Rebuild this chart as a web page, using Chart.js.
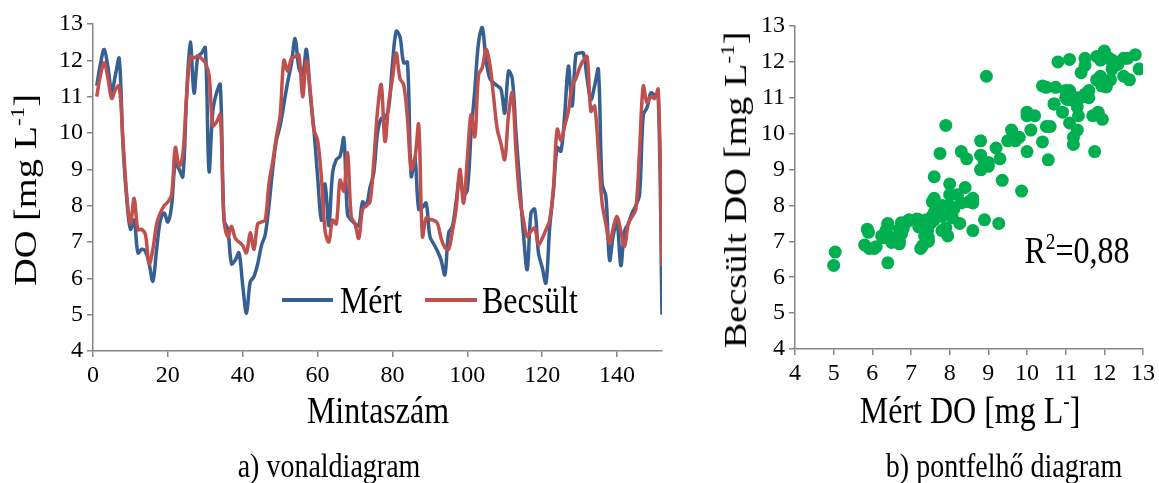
<!DOCTYPE html>
<html>
<head>
<meta charset="utf-8">
<script src="https://cdn.jsdelivr.net/npm/chart.js@4"></script>
<style>
  html, body { margin: 0; padding: 0; background: #fff; }
  body { width: 1159px; height: 483px; position: relative; overflow: hidden; font-family: "Liberation Serif", "Times New Roman", serif; color: #000; }
  .box { position: absolute; }
  .txt { position: absolute; white-space: nowrap; line-height: 1; transform: translate(-50%, -50%) scaleY(1.2); }
  .rot { transform: translate(-50%, -50%) rotate(-90deg) scaleX(1.2); }
  sup { font-size: 0.6em; vertical-align: 0.6em; line-height: 0; }
  .key { position: absolute; height: 3.5px; }
</style>
</head>
<body>
<div class="box" style="left:0;top:0;width:680px;height:400px"><canvas id="lineChart"></canvas></div>
<div class="box" style="left:700px;top:0;width:459px;height:400px"><canvas id="scatterChart"></canvas></div>

<div class="txt rot" style="left:25px;top:190px;font-size:32px">DO [mg L<sup>-1</sup>]</div>
<div class="txt" style="left:378px;top:410px;font-size:32px">Mintaszám</div>
<div class="txt" style="left:329px;top:466px;font-size:28px">a) vonaldiagram</div>

<div class="key" style="left:282px;top:298px;width:51px;background:#376092"></div>
<div class="txt" style="left:371px;top:300px;font-size:32px">Mért</div>
<div class="key" style="left:425px;top:298px;width:52px;background:#c0504d"></div>
<div class="txt" style="left:530px;top:300px;font-size:32px">Becsült</div>

<div class="txt rot" style="left:735px;top:190px;font-size:32px">Becsült DO [mg L<sup>-1</sup>]</div>
<div class="txt" style="left:970px;top:410px;font-size:32px">Mért DO [mg L<sup>-</sup>]</div>
<div class="txt" style="left:1004px;top:466px;font-size:28px">b) pontfelhő diagram</div>
<div class="txt" style="left:1077px;top:250px;font-size:32px">R<sup>2</sup>=0,88</div>

<script>
// measured (Mért) and estimated (Becsült) dissolved oxygen, samples 1..152
const measured = [
  11.3, 11.9, 12.3, 11.8, 11.15, 11.6, 12.05, 9.7, 8.2, 7.35,
  7.6, 6.7, 6.8, 6.75, 6.4, 5.92, 6.8, 7.6, 7.8, 7.55,
  8.0, 9.2, 9.0, 8.8, 11.0, 12.5, 11.1, 12.1, 12.2, 12.35,
  8.95, 10.6, 11.1, 11.33, 7.6, 7.35, 6.4, 6.5, 6.7, 5.8,
  5.04, 5.9, 6.05, 6.4, 6.9, 7.2, 8.0, 9.0, 9.8, 10.2,
  10.8, 11.4, 11.9, 12.6, 11.8, 11.6, 12.3, 11.1, 10.1, 8.8,
  7.6, 8.6, 7.45, 8.9, 9.27, 9.36, 9.86, 7.75, 7.6, 7.5,
  7.45, 8.1, 8.0, 8.5, 8.9, 10.0, 10.4, 10.4, 10.7, 11.9,
  12.8, 12.65, 11.93, 11.95, 8.81, 9.3, 7.9, 7.95, 8.07, 7.15,
  6.95, 6.75, 6.5, 6.1, 7.25, 7.43, 8.1, 8.8, 8.3, 8.44,
  10.0, 11.2, 12.5, 12.9, 12.0, 11.5, 11.38, 11.3, 11.2, 10.55,
  11.7, 11.5, 10.0, 8.6, 7.2, 6.24, 7.8, 7.9, 6.7, 6.3,
  5.87, 7.4, 8.4, 9.6, 9.5, 10.5, 11.84, 10.74, 12.16, 12.2,
  12.2, 11.5, 10.92, 11.3, 11.75, 8.6, 8.26, 6.5, 7.2, 7.55,
  6.35, 7.3, 7.5, 7.8, 8.0, 8.3, 10.5, 10.7, 11.1, 11.05,
  11.0, 5.0
]
const estimated = [
  11.0, 11.6, 11.93, 11.5, 10.95, 11.2, 11.3, 9.8, 8.3, 7.5,
  8.2, 7.34, 7.35, 7.2, 6.4, 6.8, 7.5, 7.8, 8.0, 8.1,
  8.3, 9.6, 9.09, 9.4, 11.0, 12.1, 12.07, 12.12, 12.05, 11.93,
  11.6, 10.2, 10.3, 10.5, 7.6, 7.15, 7.43, 7.1, 7.0, 6.9,
  6.7, 7.25, 6.8, 7.5, 7.55, 7.6, 8.6, 9.2, 9.9, 10.5,
  12.0, 11.7, 12.05, 12.1, 12.15, 11.0, 11.98, 11.2, 10.1, 9.8,
  8.8, 7.3, 7.0, 7.6, 7.5, 8.7, 8.4, 9.45, 7.7, 7.5,
  7.1, 7.89, 8.0, 8.1, 9.2, 10.6, 11.33, 9.77, 10.83, 11.5,
  12.2, 11.5, 11.33, 10.4, 9.0, 9.3, 10.23, 7.15, 7.66, 7.62,
  7.6, 7.52, 7.1, 6.85, 6.8, 7.3, 7.9, 9.0, 8.07, 9.3,
  10.5, 9.9, 11.6, 11.8, 12.3, 11.9, 11.0, 10.1, 9.7, 9.27,
  10.5, 11.1, 9.5, 8.2, 7.6, 7.15, 7.3, 7.38, 6.93, 7.1,
  7.34, 7.6, 8.5, 10.1, 9.8, 10.2, 10.6, 11.29, 11.5, 11.8,
  12.0, 12.1, 10.6, 10.74, 9.5, 8.07, 7.5, 6.97, 7.4, 7.7,
  7.3, 6.88, 7.5, 7.7, 7.89, 9.5, 11.29, 10.83, 11.0, 10.95,
  11.2, 6.33
]
const sampleTicks = [0, 20, 40, 60, 80, 100, 120, 140]
const doTicks = [4, 5, 6, 7, 8, 9, 10, 11, 12, 13]
const scatterTicks = [4, 5, 6, 7, 8, 9, 10, 11, 12, 13]

const BLUE = "#376092"
const RED = "#c0504d"
const GREEN = "#00b050"
const AXIS = "#868686"
const TICK_FONT = { family: "'Liberation Serif', serif", size: 24 }

function axis(min, max, ticks, size, vertical) {
  return {
    type: "linear",
    min: min,
    max: max,
    afterBuildTicks: s => { s.ticks = ticks.map(v => ({ value: v })) },
    afterFit: s => { if (vertical) s.width = size; else s.height = size },
    border: { color: AXIS, width: 1.5 },
    grid: { drawOnChartArea: false, color: AXIS, lineWidth: 1.5, tickLength: 6 },
    ticks: { color: "#000", font: TICK_FONT, padding: 4, maxRotation: 0, autoSkip: false },
  }
}

Chart.defaults.animation = false
Chart.defaults.responsive = true
Chart.defaults.maintainAspectRatio = false

new Chart(document.getElementById("lineChart"), {
  type: "line",
  data: {
    datasets: [
      {
        label: "Mért",
        data: measured.map((v, i) => ({ x: i + 1, y: v })),
        borderColor: BLUE,
        borderWidth: 3.5,
        pointRadius: 0,
        tension: 0.35,
        order: 1,
      },
      {
        label: "Becsült",
        data: estimated.map((v, i) => ({ x: i + 1, y: v })),
        borderColor: RED,
        borderWidth: 3.5,
        pointRadius: 0,
        tension: 0.35,
        order: 0,
      },
    ],
  },
  options: {
    layout: { padding: { left: 0, top: 24, right: 18, bottom: 0 } },
    plugins: { legend: { display: false }, tooltip: { enabled: false } },
    scales: {
      x: axis(0, 152, sampleTicks, 49, false),
      y: axis(4, 13, doTicks, 93, true),
    },
  },
})

new Chart(document.getElementById("scatterChart"), {
  type: "scatter",
  data: {
    datasets: [{
      label: "Becsült vs Mért",
      data: measured.map((v, i) => ({ x: v, y: estimated[i] })),
      backgroundColor: GREEN,
      borderWidth: 0,
      pointRadius: 6.5,
    }],
  },
  options: {
    layout: { padding: { left: 0, top: 26, right: 13, bottom: 0 } },
    plugins: { legend: { display: false }, tooltip: { enabled: false } },
    scales: {
      x: axis(4, 13, scatterTicks, 51, false),
      y: axis(4, 13, scatterTicks, 95, true),
    },
  },
})
</script>
</body>
</html>
